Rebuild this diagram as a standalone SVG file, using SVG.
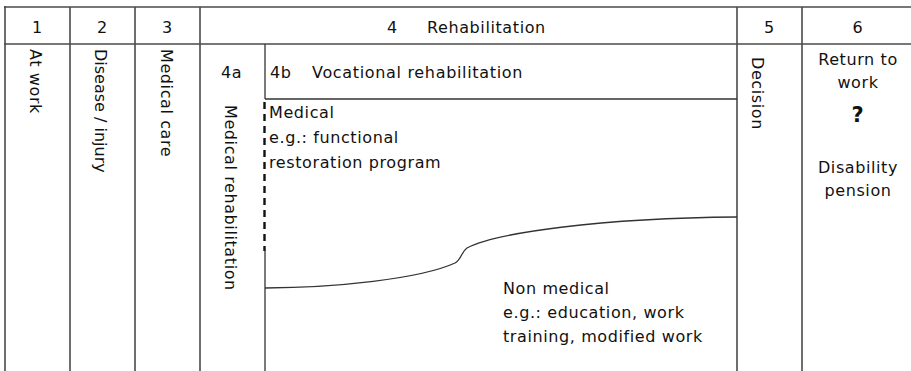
<svg xmlns="http://www.w3.org/2000/svg" width="911" height="371" viewBox="0 0 911 371">
  <style>
    .grid { stroke: #4a4a4a; stroke-width: 1.6; fill: none; }
    .thin { stroke: #333; stroke-width: 1.3; fill: none; }
    .dash { stroke: #111; stroke-width: 2.4; fill: none; stroke-dasharray: 7 5; }
    text { font-family: "DejaVu Sans", Verdana, sans-serif; font-size: 16px; fill: #111; letter-spacing: 0.6px; }
    .mid { text-anchor: middle; }
    .tight { letter-spacing: 0; }
    .q { font-size: 21px; font-weight: bold; }
  </style>
  <rect width="911" height="371" fill="#fff"/>

  <!-- table grid -->
  <g id="grid">
    <line class="grid" x1="4" y1="7" x2="911" y2="7"/>
    <line class="grid" x1="4" y1="44" x2="911" y2="44"/>
    <line class="grid" x1="5" y1="6" x2="5" y2="371"/>
    <line class="grid" x1="70" y1="7" x2="70" y2="371"/>
    <line class="grid" x1="135" y1="7" x2="135" y2="371"/>
    <line class="grid" x1="200" y1="7" x2="200" y2="371"/>
    <line class="grid" x1="737" y1="7" x2="737" y2="371"/>
    <line class="grid" x1="802" y1="7" x2="802" y2="371"/>
  </g>

  <!-- header row -->
  <g id="headers">
    <text class="mid" x="37.5" y="33">1</text>
    <text class="mid" x="102.5" y="33">2</text>
    <text class="mid" x="167.5" y="33">3</text>
    <text x="387" y="33">4</text>
    <text x="427" y="33">Rehabilitation</text>
    <text class="mid" x="769.5" y="33">5</text>
    <text class="mid" x="858" y="33">6</text>
  </g>

  <g id="col1"><text transform="translate(30,49) rotate(90)">At work</text></g>
  <g id="col2"><text class="tight" transform="translate(95,49) rotate(90)">Disease / injury</text></g>
  <g id="col3"><text transform="translate(161,49) rotate(90)">Medical care</text></g>

  <g id="col4a">
    <text x="221" y="78">4a</text>
    <text transform="translate(225,105) rotate(90)">Medical rehabilitation</text>
  </g>

  <!-- 4b: vocational rehabilitation with its medical / non medical split -->
  <g id="col4b">
    <line class="thin" x1="265" y1="44" x2="265" y2="99"/>
    <line class="thin" x1="265" y1="99" x2="737" y2="99"/>
    <line class="dash" x1="264.5" y1="102" x2="264.5" y2="251"/>
    <line class="thin" x1="265" y1="250" x2="265" y2="371"/>
    <path class="thin" d="M265,288 C335,287.5 420,279 455,263 C462,259 461,252 467,248 C495,233 600,218 737,217"/>
    <text x="270" y="78">4b</text>
    <text x="312" y="78" textLength="211" lengthAdjust="spacing">Vocational rehabilitation</text>
    <text x="269" y="118">Medical</text>
    <text x="269" y="143">e.g.: functional</text>
    <text x="269" y="168">restoration program</text>
    <text x="503" y="294">Non medical</text>
    <text x="503" y="318">e.g.: education, work</text>
    <text x="503" y="342">training, modified work</text>
  </g>

  <g id="col5"><text transform="translate(752,57) rotate(90)">Decision</text></g>

  <g id="col6">
    <text class="mid" x="858" y="65">Return to</text>
    <text class="mid" x="858" y="88">work</text>
    <text class="mid q" x="858" y="122">?</text>
    <text class="mid" x="858" y="173">Disability</text>
    <text class="mid" x="858" y="196">pension</text>
  </g>
</svg>
